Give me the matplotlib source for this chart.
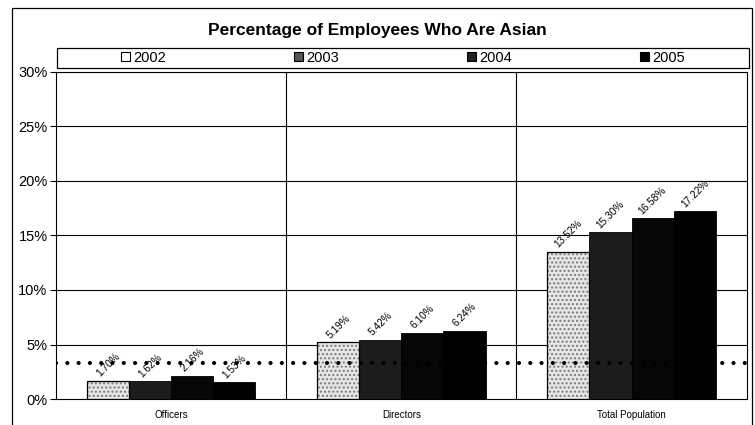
import matplotlib
matplotlib.use("Agg")
import matplotlib.pyplot as plt
from matplotlib.patches import Rectangle, Patch
import numpy as np

plt.rcParams['font.family'] = ['Liberation Sans', 'DejaVu Sans']

categories = ["Officers", "Directors", "Total Population"]
years = ["2002", "2003", "2004", "2005"]
values = {
    "2002": [1.70, 5.19, 13.52],
    "2003": [1.62, 5.42, 15.30],
    "2004": [2.16, 6.10, 16.58],
    "2005": [1.53, 6.24, 17.22],
}
reference_line = 3.3
yticks = [0, 5, 10, 15, 20, 25, 30]

faces = ["#e6e6e6", "#1c1c1c", "#060606", "#000000"]
hatches = ["....", None, None, None]

fig = plt.figure(figsize=(7.55, 4.25), dpi=100)
ax = fig.add_axes([0.074, 0.061, 0.915, 0.770])

x = np.arange(len(categories))
w = 0.183
for i, yr in enumerate(years):
    pos = x + (i - 1.5) * w
    vals = values[yr]
    if hatches[i]:
        ax.bar(pos, vals, w, color=faces[i], hatch=hatches[i], edgecolor="#7a7a7a",
               linewidth=0, zorder=3)
        ax.bar(pos, vals, w, fill=False, edgecolor="black", linewidth=0.9, zorder=3.1)
    else:
        ax.bar(pos, vals, w, color=faces[i], edgecolor="black", linewidth=0.6, zorder=3)
    for p, v in zip(pos, vals):
        ax.text(p, v + 0.2, f"{v:.2f}%", rotation=45, ha="center", va="bottom",
                fontsize=7.3, zorder=5)

ax.axhline(reference_line, color="black", linewidth=3.0, linestyle=(0, (0.01, 2.7)),
           dash_capstyle="round", zorder=4)

ax.set_xlim(-0.5, 2.5)
ax.set_ylim(0, 30)
ax.set_yticks(yticks)
ax.set_yticklabels([f"{t}%" for t in yticks], fontsize=10.5)
ax.set_xticks(x)
ax.set_xticklabels(categories, fontsize=7)
ax.tick_params(axis="x", length=0, pad=8)
ax.tick_params(axis="y", length=4, direction="out", width=0.8, pad=2)
for yv in yticks[1:]:
    ax.axhline(yv, color="black", linewidth=0.8, zorder=1)
for xv in [0.5, 1.5]:
    ax.axvline(xv, color="black", linewidth=0.8, zorder=1)
for s in ax.spines.values():
    s.set_linewidth(0.8)

handles = [
    Patch(facecolor="white", edgecolor="black", linewidth=0.8),
    Patch(facecolor="#555555", edgecolor="black", linewidth=0.8),
    Patch(facecolor="#222222", edgecolor="black", linewidth=0.8),
    Patch(facecolor="black", edgecolor="black", linewidth=0.8),
]
leg_left, leg_bottom, leg_w, leg_h = 57 / 755, 1 - 68 / 425, 692 / 755, 20 / 425
colw = leg_w / 4
for i, (h, yr) in enumerate(zip(handles, years)):
    lg = fig.legend([h], [yr], loc="center",
                    bbox_to_anchor=(leg_left + colw * (i + 0.5), leg_bottom + leg_h / 2),
                    fontsize=10.5, frameon=False, handlelength=0.6, handleheight=0.6,
                    handletextpad=0.2, borderpad=0, borderaxespad=0)
fig.patches.append(Rectangle((leg_left, leg_bottom), leg_w, leg_h,
                             transform=fig.transFigure, fill=False,
                             edgecolor="black", linewidth=0.9))

fig.text(0.5, 1 - 30 / 425, "Percentage of Employees Who Are Asian", ha="center",
         va="center", fontsize=12.5, fontweight="bold")

fig.patches.append(Rectangle((12 / 755, -0.01), 740 / 755, 1.01 - 8 / 425,
                             transform=fig.transFigure, fill=False,
                             edgecolor="black", linewidth=0.9))

fig.savefig("out.png", dpi=100)
